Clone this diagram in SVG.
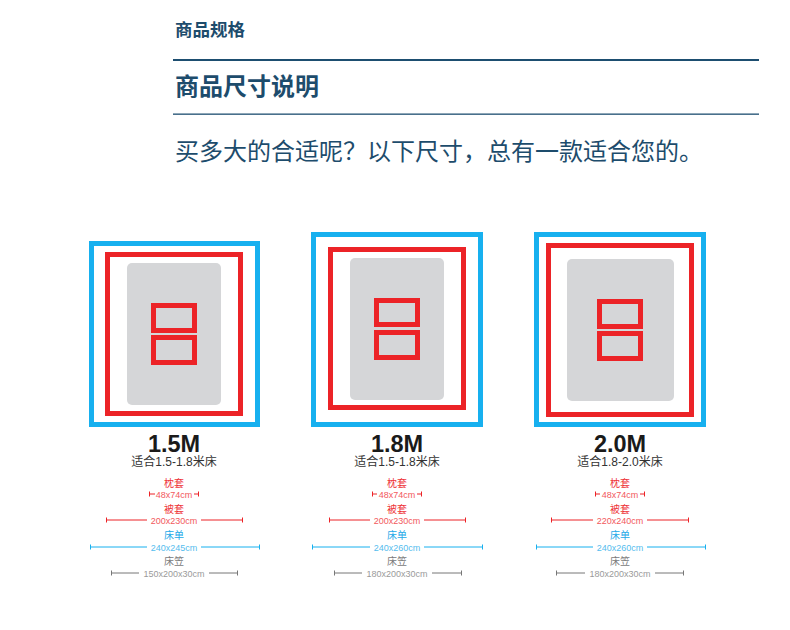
<svg xmlns="http://www.w3.org/2000/svg" width="790" height="630" viewBox="0 0 790 630">
<style>
text{font-family:"Liberation Sans","Noto Sans CJK SC",sans-serif}
.hd{fill:#1d4c6c}
.blue{fill:none;stroke:#17b0ef;stroke-width:5}
.red{fill:none;stroke:#ec2327;stroke-width:5}
.mat{fill:#d5d6d8}
.size{font-size:23.5px;font-weight:bold;fill:#1a1a1a;text-anchor:middle}
.fit{font-size:12px;fill:#333;text-anchor:middle}
.lb{font-size:10px;text-anchor:middle}
.dm{font-size:9px;text-anchor:middle}
.lr{fill:#ee3338}.dr{fill:#f2585c}
.lbl{fill:#22a9e8}.dbl{fill:#55bdee}
.lg{fill:#7a7a7a}.dg{fill:#9a9a9a}
.sr{stroke:#ec2327;stroke-width:1;fill:none}
.sb{stroke:#17b0ef;stroke-width:1;fill:none}
.sg{stroke:#777;stroke-width:1;fill:none}
</style>
<rect width="790" height="630" fill="#fff"/>
<g id="header">
<text x="175" y="36" class="hd" style="font-size:17.5px;font-weight:bold">商品规格</text>
<rect x="173" y="59" width="586" height="2" fill="#1d4e70"/>
<text x="175" y="95" class="hd" style="font-size:24px;font-weight:bold">商品尺寸说明</text>
<rect x="173" y="113.5" width="586" height="1.3" fill="#1d4e70"/>
<text x="175" y="160" class="hd" style="font-size:24px">买多大的合适呢？以下尺寸，总有一款适合您的。</text>
</g>
<g id="bed-15">
<rect class="blue" x="91.5" y="243.5" width="166" height="181"/>
<rect class="red" x="107.5" y="254.5" width="133" height="159"/>
<rect class="mat" x="127" y="263" width="94" height="142" rx="5"/>
<rect class="red" x="153.5" y="305.5" width="41" height="25"/>
<rect class="red" x="153.5" y="337.5" width="41" height="25"/>
<text x="174" y="452" class="size">1.5M</text>
<text x="174" y="466" class="fit">适合1.5-1.8米床</text>
</g>
<g id="bed-18">
<rect class="blue" x="313.5" y="234.5" width="167" height="190"/>
<rect class="red" x="330.5" y="249.5" width="133" height="158"/>
<rect class="mat" x="350" y="258" width="94" height="142" rx="5"/>
<rect class="red" x="376.5" y="300.5" width="41" height="24"/>
<rect class="red" x="376.5" y="332.5" width="41" height="25"/>
<text x="397" y="452" class="size">1.8M</text>
<text x="397" y="466" class="fit">适合1.5-1.8米床</text>
</g>
<g id="bed-20">
<rect class="blue" x="536.5" y="234.5" width="167" height="190"/>
<rect class="red" x="548.5" y="245.5" width="143" height="169"/>
<rect class="mat" x="567" y="259" width="107" height="142" rx="5"/>
<rect class="red" x="599.5" y="301.5" width="41" height="25"/>
<rect class="red" x="599.5" y="333.5" width="41" height="25"/>
<text x="620" y="452" class="size">2.0M</text>
<text x="620" y="466" class="fit">适合1.8-2.0米床</text>
</g>
<g id="dimensions">
<text x="174" y="487" class="lb lr">枕套</text>
<path class="sr" d="M149.5 491.5v5M149.5 494H155M194 494h4.5M198.5 491.5v5"/>
<text x="174" y="497.5" class="dm dr">48x74cm</text>
<text x="174" y="513" class="lb lr">被套</text>
<path class="sr" d="M106.5 517.5v5M106.5 520H147M201 520h41.5M242.5 517.5v5"/>
<text x="174" y="523.5" class="dm dr">200x230cm</text>
<text x="174" y="539" class="lb lbl">床单</text>
<path class="sb" d="M90.5 544.5v5M90.5 547H147M201 547h58.5M259.5 544.5v5"/>
<text x="174" y="550.5" class="dm dbl">240x245cm</text>
<text x="174" y="565" class="lb lg">床笠</text>
<path class="sg" d="M111.5 570.5v5M111.5 573H139M209 573h28.5M237.5 570.5v5"/>
<text x="174" y="576.5" class="dm dg">150x200x30cm</text>
<text x="397" y="487" class="lb lr">枕套</text>
<path class="sr" d="M372.5 491.5v5M372.5 494H377M417 494h4.5M421.5 491.5v5"/>
<text x="397" y="497.5" class="dm dr">48x74cm</text>
<text x="397" y="513" class="lb lr">被套</text>
<path class="sr" d="M329.5 517.5v5M329.5 520H370M424 520h41.5M465.5 517.5v5"/>
<text x="397" y="523.5" class="dm dr">200x230cm</text>
<text x="397" y="539" class="lb lbl">床单</text>
<path class="sb" d="M312.5 544.5v5M312.5 547H370M424 547h58.5M482.5 544.5v5"/>
<text x="397" y="550.5" class="dm dbl">240x260cm</text>
<text x="397" y="565" class="lb lg">床笠</text>
<path class="sg" d="M334.5 570.5v5M334.5 573H362M432 573h29.5M461.5 570.5v5"/>
<text x="397" y="576.5" class="dm dg">180x200x30cm</text>
<text x="620" y="487" class="lb lr">枕套</text>
<path class="sr" d="M595.5 491.5v5M595.5 494H600M640 494h4.5M644.5 491.5v5"/>
<text x="620" y="497.5" class="dm dr">48x74cm</text>
<text x="620" y="513" class="lb lr">被套</text>
<path class="sr" d="M551.5 517.5v5M551.5 520H593M647 520h41.5M688.5 517.5v5"/>
<text x="620" y="523.5" class="dm dr">220x240cm</text>
<text x="620" y="539" class="lb lbl">床单</text>
<path class="sb" d="M536.5 544.5v5M536.5 547H593M647 547h58.5M705.5 544.5v5"/>
<text x="620" y="550.5" class="dm dbl">240x260cm</text>
<text x="620" y="565" class="lb lg">床笠</text>
<path class="sg" d="M556.5 570.5v5M556.5 573H585M655 573h28.5M683.5 570.5v5"/>
<text x="620" y="576.5" class="dm dg">180x200x30cm</text>
</g>
</svg>
